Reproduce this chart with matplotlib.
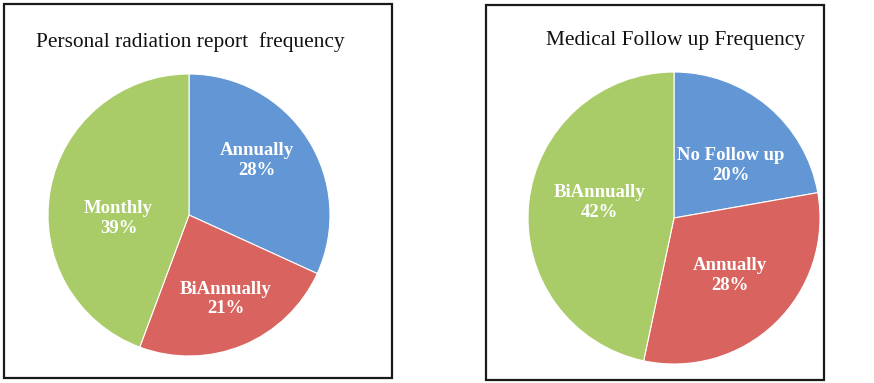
import numpy as np
import matplotlib
matplotlib.use("Agg")
import matplotlib.pyplot as plt
from matplotlib.patches import Rectangle

# Data
report_title = "Personal radiation report  frequency"
report_labels = ["Annually", "BiAnnually", "Monthly"]
report_values = [28, 21, 39]

followup_title = "Medical Follow up Frequency"
followup_labels = ["No Follow up", "Annually", "BiAnnually"]
followup_values = [20, 28, 42]

colors = ["#6296D4", "#D9635E", "#A9CB68"]

W, H = 874, 383
fig = plt.figure(figsize=(W / 100, H / 100), dpi=100)
fig.patch.set_facecolor("white")


def px_axes(cx, cy, r):
    """Axes whose unit circle is centred at pixel (cx, cy) with radius r px."""
    return fig.add_axes([(cx - r) / W, (H - cy - r) / H, 2 * r / W, 2 * r / H])


def draw_pie(ax, values, labels, label_r, label_shift):
    wedges, _ = ax.pie(values, colors=colors, startangle=90, counterclock=False,
                       radius=1.0, wedgeprops=dict(edgecolor="white", linewidth=0.8))
    for w, lab, v, lr, sh in zip(wedges, labels, values, label_r, label_shift):
        mid = np.deg2rad((w.theta1 + w.theta2) / 2 + sh)
        ax.text(lr * np.cos(mid), lr * np.sin(mid), f"{lab}\n{v}%",
                ha="center", va="center", color="white", fontsize=13.5,
                fontweight="bold", family="Liberation Serif", linespacing=1.2)
    ax.set_xlim(-1, 1)
    ax.set_ylim(-1, 1)
    ax.set_aspect("equal")
    ax.axis("off")


ax1 = px_axes(189, 215, 141)
draw_pie(ax1, report_values, report_labels, [0.62, 0.65, 0.50], [6, 1, 13])

ax2 = px_axes(674, 218, 146)
draw_pie(ax2, followup_values, followup_labels, [0.53, 0.55, 0.52], [-7, 0, -6])

# Panel titles
fig.text(190 / W, 1 - 42 / H, report_title, ha="center", va="center",
         fontsize=15.4, family="Liberation Serif", color="#111111")
fig.text(675 / W, 1 - 40 / H, followup_title, ha="center", va="center",
         fontsize=15.4, family="Liberation Serif", color="#111111")

# Panel frames
for x0, y0, x1, y1 in [(4, 4, 392, 378), (486, 5, 824, 380)]:
    fig.add_artist(Rectangle((x0 / W, 1 - y1 / H), (x1 - x0) / W, (y1 - y0) / H,
                             transform=fig.transFigure, fill=False,
                             edgecolor="#1a1a1a", linewidth=1.6))

fig.savefig("out.png", dpi=100, facecolor="white")
